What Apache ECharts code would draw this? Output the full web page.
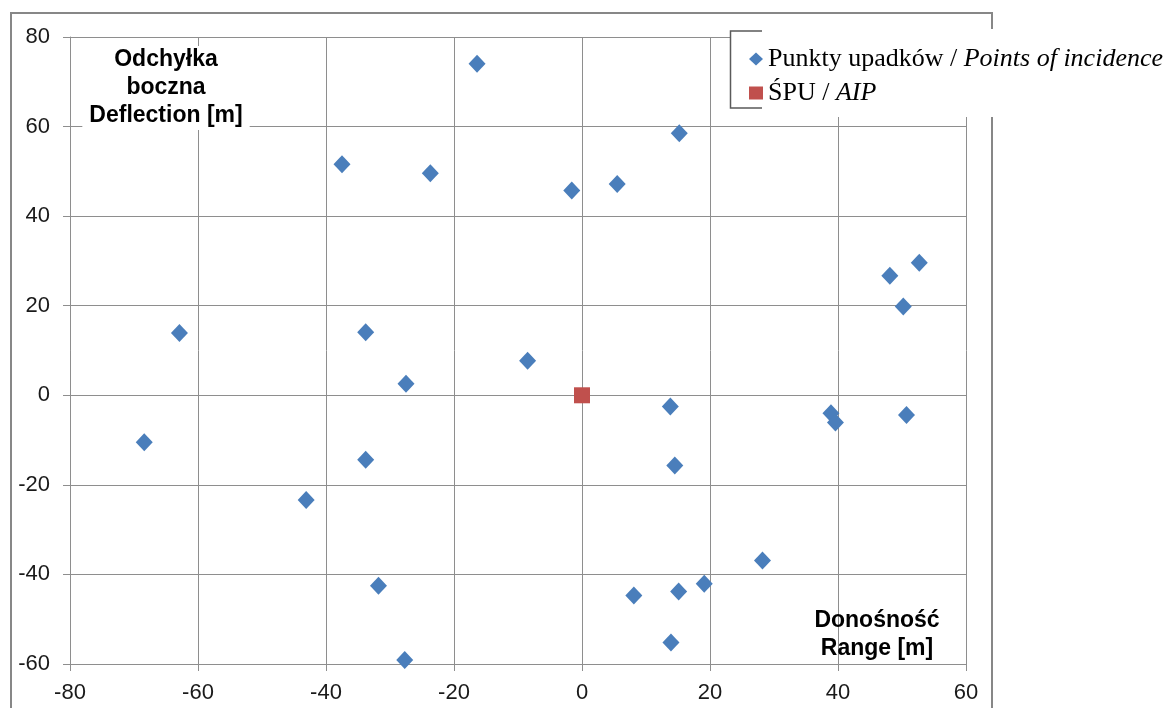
<!DOCTYPE html>
<html>
<head>
<meta charset="utf-8">
<script src="https://cdn.jsdelivr.net/npm/echarts@6/dist/echarts.min.js"></script>
<style>html,body{margin:0;padding:0;background:#fff;}#c{width:1174px;height:708px;}</style>
</head>
<body>
<div id="c"></div>
<script>
const pointsX = [-16.4, 15.2, -37.5, -23.7, -1.6, 5.5, 48.1, 52.7, 50.2, -62.9, -33.8, -8.5, -27.5, 13.8, 38.9, 39.6, 50.7, -68.4, -33.8, 14.5, -43.1, 28.2, -31.8, 8.1, 15.1, 19.1, 13.9, -27.7];
const pointsY = [74.0, 58.5, 51.6, 49.6, 45.7, 47.2, 26.7, 29.6, 19.8, 13.9, 14.1, 7.7, 2.6, -2.5, -4.0, -6.1, -4.4, -10.5, -14.4, -15.7, -23.4, -36.9, -42.5, -44.7, -43.8, -42.1, -55.2, -59.1];
const aipX = [0];
const aipY = [0];
const seriesNames = ['Punkty upadków / Points of incidence', 'ŚPU / AIP'];
const xTitle = 'Donośność\nRange [m]';
const yTitle = 'Odchyłka\nboczna\nDeflection [m]';

const chart = echarts.init(document.getElementById('c'));
const gridColor = '#8e8e8e';
const axisLabelStyle = { fontFamily: 'Liberation Sans, Arial', fontSize: 22, color: '#1a1a1a' };

chart.setOption({
  backgroundColor: '#fff',
  animation: false,
  grid: { left: 70, right: 208, top: 37, bottom: 44, containLabel: false },
  xAxis: {
    type: 'value', min: -80, max: 60, interval: 20,
    axisLine: { show: true, onZero: false, lineStyle: { color: gridColor, width: 1 } },
    axisTick: { show: true, length: 7, lineStyle: { color: gridColor } },
    splitLine: { show: true, lineStyle: { color: gridColor, width: 1 } },
    axisLabel: Object.assign({ margin: 18 }, axisLabelStyle)
  },
  yAxis: {
    type: 'value', min: -60, max: 80, interval: 20,
    axisLine: { show: true, onZero: false, lineStyle: { color: gridColor, width: 1 } },
    axisTick: { show: true, length: 7, lineStyle: { color: gridColor } },
    splitLine: { show: true, lineStyle: { color: gridColor, width: 1 } },
    axisLabel: Object.assign({ margin: 20 }, axisLabelStyle)
  },
  legend: {
    orient: 'vertical', left: 744, top: 41, z: 20,
    itemWidth: 14, itemHeight: 13, itemGap: 8,
    data: [
      { name: seriesNames[0], icon: 'diamond' },
      { name: seriesNames[1], icon: 'rect' }
    ],
    formatter: function (name) {
      const parts = name.split(' / ');
      return '{a|' + parts[0] + ' / }{b|' + parts[1] + '}';
    },
    textStyle: {
      rich: {
        a: { fontFamily: 'Liberation Serif, Times New Roman', fontSize: 26, color: '#000', lineHeight: 30 },
        b: { fontFamily: 'Liberation Serif, Times New Roman', fontSize: 26, fontStyle: 'italic', color: '#000', lineHeight: 30 }
      }
    }
  },
  graphic: [
    { type: 'rect', z: 5, shape: { x: 11, y: 13, width: 981, height: 720 }, style: { fill: 'none', stroke: '#878787', lineWidth: 2 }, silent: true },
    { type: 'rect', z: 6, shape: { x: 731, y: 29, width: 443, height: 88 }, style: { fill: '#fff' }, silent: true },
    { type: 'polyline', z: 7, shape: { points: [[762, 31], [730.5, 31], [730.5, 108], [762, 108]] }, style: { fill: 'none', stroke: '#5a5a5a', lineWidth: 1.5 }, silent: true },
    { type: 'text', z: 8, x: 166, y: 46, style: { text: yTitle, font: 'bold 23px "Liberation Sans", Arial', fill: '#000', align: 'center', verticalAlign: 'top', lineHeight: 28, backgroundColor: '#fff', padding: [0, 7, 0, 7] }, silent: true },
    { type: 'text', z: 8, x: 877, y: 607, style: { text: xTitle, font: 'bold 23px "Liberation Sans", Arial', fill: '#000', align: 'center', verticalAlign: 'top', lineHeight: 28 }, silent: true }
  ],
  series: [
    {
      name: seriesNames[0], type: 'scatter', symbol: 'diamond', symbolSize: [17, 18],
      itemStyle: { color: '#4A7EBB', opacity: 1 },
      data: pointsX.map((x, i) => [x, pointsY[i]])
    },
    {
      name: seriesNames[1], type: 'scatter', symbol: 'rect', symbolSize: 16,
      itemStyle: { color: '#C0504D', opacity: 1 },
      data: aipX.map((x, i) => [x, aipY[i]])
    }
  ]
});
</script>
</body>
</html>
